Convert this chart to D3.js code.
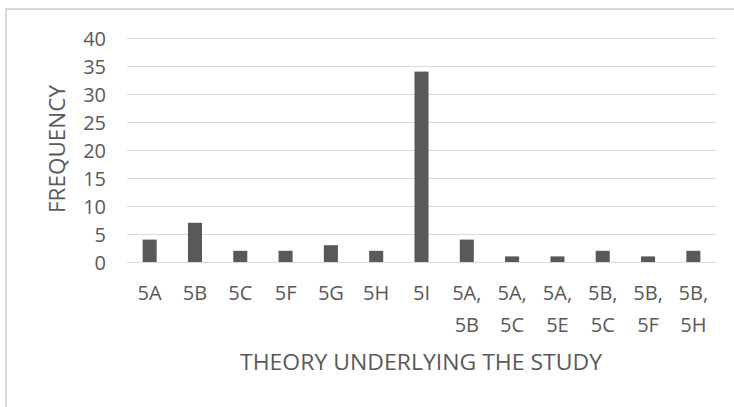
<!DOCTYPE html>
<html>
<head>
<meta charset="utf-8">
<script src="https://cdn.jsdelivr.net/npm/d3@7"></script>
<style>
  html, body { margin: 0; padding: 0; background: #fff; }
  svg { display: block; }
  text { font-family: "Open Sans", "Noto Sans", sans-serif; fill: #595959; }
</style>
</head>
<body>
<svg id="chart" width="734" height="407"></svg>
<script>
// Theory codes (multi-theory entries wrap onto two lines)
const categories = ["5A", "5B", "5C", "5F", "5G", "5H", "5I",
                    "5A, 5B", "5A, 5C", "5A, 5E", "5B, 5C", "5B, 5F", "5B, 5H"];
const frequency = [4, 7, 2, 2, 3, 2, 34, 4, 1, 1, 2, 1, 2];
const yTicks = [0, 5, 10, 15, 20, 25, 30, 35, 40];
const xTitle = "THEORY UNDERLYING THE STUDY";
const yTitle = "FREQUENCY";

const svg = d3.select("#chart");
const plot = { left: 127, right: 716, top: 38, bottom: 262 };

// Chart area frame
svg.append("rect")
  .attr("x", 6).attr("y", 9)
  .attr("width", 760).attr("height", 440)
  .attr("fill", "none")
  .attr("stroke", "#d9d9d9")
  .attr("stroke-width", 2);

const x = d3.scaleBand()
  .domain(categories)
  .range([plot.left, plot.right])
  .paddingInner(0.69)
  .paddingOuter(0.345);

const y = d3.scaleLinear()
  .domain([0, 40])
  .range([plot.bottom, plot.top]);

// Horizontal gridlines
svg.append("g")
  .selectAll("line")
  .data(yTicks)
  .join("line")
  .attr("x1", plot.left).attr("x2", plot.right)
  .attr("y1", d => Math.round(y(d)) + 0.5)
  .attr("y2", d => Math.round(y(d)) + 0.5)
  .attr("stroke", "#d9d9d9")
  .attr("stroke-width", 1);

// Y axis labels
const yAxis = svg.append("g")
  .attr("transform", `translate(${plot.left - 21},0)`)
  .call(d3.axisLeft(y).tickValues(yTicks).tickSize(0).tickPadding(0));
yAxis.select(".domain").remove();
yAxis.selectAll("text")
  .style("font-size", "20px")
  .attr("fill", "#595959")
  .attr("dy", "0.35em");

// Bars
svg.append("g")
  .selectAll("rect")
  .data(categories.map((c, i) => ({ c, v: frequency[i] })))
  .join("rect")
  .attr("x", d => x(d.c))
  .attr("width", x.bandwidth())
  .attr("y", d => y(d.v))
  .attr("height", d => y(0) - y(d.v))
  .attr("fill", "#595959");

// X axis labels, split onto two lines after the comma
const xAxis = svg.append("g")
  .attr("transform", `translate(0,${plot.bottom})`)
  .call(d3.axisBottom(x).tickSize(0).tickPadding(0));
xAxis.select(".domain").remove();
xAxis.selectAll("text")
  .style("font-size", "20px")
  .attr("fill", "#595959")
  .attr("y", 0)
  .attr("dy", null)
  .each(function (d) {
    const t = d3.select(this);
    t.text(null);
    const parts = d.split(" ");
    parts.forEach((p, i) => {
      t.append("tspan")
        .attr("x", 0)
        .attr("y", 38 + i * 32)
        .text(p);
    });
  });

// Axis titles
svg.append("text")
  .attr("x", (plot.left + plot.right) / 2 - 0.5)
  .attr("y", 370)
  .attr("text-anchor", "middle")
  .style("font-size", "22px")
  .attr("textLength", 362)
  .attr("lengthAdjust", "spacingAndGlyphs")
  .text(xTitle);

svg.append("text")
  .attr("transform", "translate(65,149) rotate(-90)")
  .attr("text-anchor", "middle")
  .style("font-size", "22px")
  .attr("textLength", 128)
  .attr("lengthAdjust", "spacingAndGlyphs")
  .text(yTitle);
</script>
</body>
</html>
